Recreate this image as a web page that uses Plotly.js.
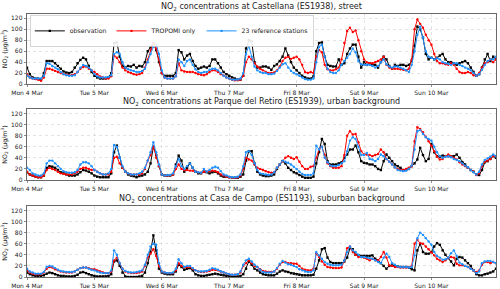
<!DOCTYPE html>
<html><head><meta charset="utf-8">
<script src="https://cdn.plot.ly/plotly-3.0.1.min.js"></script>
<style>html,body{margin:0;padding:0;background:#fff}#chart{width:500px;height:289px}</style>
</head><body><div id="chart"></div>
<script>
// Days and tick labels
const dayDates = ['2019-03-04','2019-03-05','2019-03-06','2019-03-07','2019-03-08','2019-03-09','2019-03-10'];
const dayLabels = ['Mon 4 Mar','Tue 5 Mar','Wed 6 Mar','Thu 7 Mar','Fri 8 Mar','Sat 9 Mar','Sun 10 Mar'];
const seriesNames = ['observation','TROPOMI only','23 reference stations'];
const panelTitles = [
  'NO<sub>2</sub> concentrations at Castellana (ES1938), street',
  'NO<sub>2</sub> concentrations at Parque del Retiro (ES1939), urban background',
  'NO<sub>2</sub> concentrations at Casa de Campo (ES1193), suburban background'
];
const yTitle = 'NO<sub>2</sub> (μg/m<sup>3</sup>)';

// Panel 1: Castellana (hourly, Mon 00h .. Sun 23h)
const castObs = [
 30,18,12,10,10,8,20,42,42,42,38,33,28,23,21,20,22,30,38,44,48,45,33,22,
 15,12,10,10,10,12,20,75,76,50,33,30,33,32,35,30,33,32,40,60,67,75,62,40,
 20,15,15,15,15,20,62,58,45,52,55,42,33,28,30,32,30,33,45,45,38,30,22,18,
 15,12,10,8,8,15,65,80,78,40,30,30,32,32,30,26,33,36,42,50,65,52,40,30,
 25,20,15,12,10,10,14,60,75,76,50,35,33,32,32,45,35,38,55,65,72,72,50,30,
 40,35,38,35,35,30,40,50,45,33,28,35,33,35,35,33,35,42,70,105,100,85,55,45,
 48,45,48,52,55,45,40,40,38,35,38,40,42,38,30,22,15,18,30,45,55,42,50,45];
const castTrop = [
 18,12,10,9,8,6,12,28,28,26,24,22,20,18,17,16,16,18,22,28,31,32,28,25,
 22,18,14,12,10,10,14,52,48,40,30,25,22,20,18,17,18,20,30,45,62,75,65,45,
 20,12,10,10,10,14,38,25,23,22,22,22,20,18,17,16,18,22,25,25,22,18,15,12,
 10,8,7,7,8,15,40,50,45,38,32,28,25,22,20,20,21,25,32,42,48,50,46,48,
 50,45,35,22,20,22,20,50,62,58,35,27,25,25,27,30,45,75,97,103,95,98,80,60,
 45,40,38,38,40,42,45,50,35,30,28,28,28,27,26,25,28,45,100,118,110,103,90,80,
 72,55,42,38,38,36,35,38,35,28,22,20,20,22,20,16,15,20,30,38,40,45,40,45];
const castRef = [
 15,12,10,10,10,10,15,38,37,33,30,27,22,18,16,15,15,16,22,30,35,33,30,25,
 18,14,12,12,12,13,16,55,58,55,40,30,27,25,24,22,22,24,28,40,55,68,72,55,
 25,12,10,10,10,14,45,40,33,42,45,35,27,22,20,22,22,26,28,28,25,20,15,12,
 10,8,8,8,10,20,55,70,50,32,25,22,20,20,18,18,19,24,30,36,38,30,24,20,
 18,15,12,9,8,8,10,40,68,72,50,28,22,20,20,25,35,42,48,55,65,58,42,36,
 35,35,35,33,30,33,40,45,36,32,30,32,32,30,28,25,22,35,60,90,105,85,60,50,
 48,45,47,45,40,38,37,35,38,38,35,33,30,28,25,20,15,18,26,35,42,45,45,50];

// Panel 2: Parque del Retiro
const retObs = [
 14,10,8,6,5,5,8,22,25,24,22,18,14,12,10,8,8,8,10,14,18,17,15,12,
 8,6,5,5,5,5,12,50,62,40,22,15,10,8,7,5,7,8,10,15,30,60,45,25,
 10,8,8,8,10,28,44,35,15,22,30,22,15,12,12,15,14,12,14,15,12,8,6,6,
 5,4,4,4,6,10,35,52,52,30,15,10,8,7,7,8,10,20,28,34,30,22,18,14,
 12,9,6,4,4,4,6,30,50,74,65,34,28,28,28,30,32,40,46,55,55,62,50,34,
 31,30,28,28,25,20,18,34,46,40,34,28,25,22,18,18,20,25,30,37,58,45,34,38,
 65,50,43,42,44,43,43,43,43,46,40,32,28,22,18,15,10,9,18,32,34,38,43,40];
const retTrop = [
 15,10,8,6,5,5,8,18,22,20,18,15,12,11,10,10,10,12,15,20,22,22,20,18,
 18,15,12,10,10,10,15,40,42,30,22,15,12,10,10,10,10,12,20,35,45,60,40,25,
 10,8,8,8,10,20,28,20,18,18,17,17,15,14,13,15,15,16,17,16,14,10,8,6,
 5,4,4,5,8,20,40,37,35,28,22,20,18,16,14,13,14,22,28,34,40,43,40,38,
 41,33,25,20,20,24,25,40,55,60,45,30,25,22,22,22,25,45,80,88,82,83,68,52,
 46,46,45,43,45,47,55,50,38,33,28,23,20,18,18,20,22,25,70,95,92,86,78,70,
 62,52,42,37,38,43,46,43,40,37,32,28,25,22,18,15,9,12,25,33,35,38,43,43];
const retRef = [
 22,18,12,10,8,8,12,30,35,35,30,25,20,16,14,13,13,14,18,28,32,32,30,25,
 18,15,12,10,10,12,20,63,60,40,25,15,12,10,10,10,12,15,22,35,50,68,50,28,
 10,8,9,9,12,25,38,25,20,25,30,22,15,14,13,20,15,18,22,24,22,16,10,8,
 6,5,5,6,10,25,50,52,45,30,18,12,11,10,9,10,14,22,28,35,33,31,28,24,
 20,15,11,9,9,9,12,62,55,60,40,32,26,25,25,27,30,34,52,71,77,74,60,45,
 45,49,38,37,34,38,46,43,38,33,28,23,18,17,16,17,20,26,55,88,90,83,77,74,
 71,60,50,43,40,42,43,41,38,36,34,30,26,23,18,14,10,15,28,36,39,42,46,43];

// Panel 3: Casa de Campo
const campObs = [
 8,5,3,2,2,2,3,6,8,7,5,3,2,2,1,1,1,2,4,8,9,7,5,3,
 2,1,1,1,1,2,5,28,30,20,8,1,0,0,0,0,1,2,8,25,45,75,48,15,
 8,6,5,5,5,10,22,18,13,15,16,12,5,3,2,2,3,4,5,6,5,4,3,2,
 2,1,1,1,2,5,15,28,22,15,12,8,5,4,3,3,3,6,10,12,10,9,7,6,
 5,4,3,3,3,3,4,15,30,50,52,35,27,25,25,25,25,28,35,52,50,40,39,38,
 38,38,38,39,33,30,25,20,15,20,21,20,19,18,18,18,17,14,12,48,60,45,42,42,
 45,55,61,58,48,40,34,28,21,33,36,35,30,25,20,12,5,3,3,5,6,8,10,15];
const campTrop = [
 12,8,6,5,5,5,8,15,18,17,14,12,10,9,8,8,8,10,13,16,17,17,16,14,
 14,12,10,8,7,7,10,30,35,25,15,10,8,7,7,7,8,10,20,35,42,50,38,20,
 10,8,7,7,7,12,25,20,17,18,18,15,12,10,9,9,10,11,13,13,12,10,8,6,
 5,4,4,5,8,20,25,30,25,20,18,14,11,10,9,9,10,15,22,27,27,25,25,24,
 24,20,15,13,12,12,15,42,36,28,22,18,17,16,16,16,17,30,52,55,45,40,36,36,
 35,33,30,33,30,30,36,45,35,21,20,18,18,17,17,17,18,20,60,67,61,60,55,50,
 44,39,33,30,27,30,35,36,35,24,21,21,20,18,15,12,9,12,22,27,27,25,27,25];
const campRef = [
 15,10,8,6,6,6,9,18,20,19,16,13,11,10,9,9,9,10,13,16,17,17,15,13,
 12,10,8,7,7,7,12,48,40,25,15,11,9,8,8,9,10,12,22,40,55,60,58,25,
 10,8,7,7,8,15,32,25,18,20,20,16,12,10,10,10,11,13,16,15,13,10,8,6,
 5,4,4,5,10,22,30,33,28,22,18,13,9,8,8,8,10,16,24,29,26,23,22,20,
 18,14,12,10,9,9,12,45,39,33,27,24,22,21,21,21,22,30,45,55,48,45,40,36,
 36,35,34,33,30,27,25,35,42,36,25,22,19,18,18,18,17,18,39,70,80,76,70,64,
 58,45,38,35,31,32,35,43,48,38,26,23,20,18,15,12,7,10,25,28,29,29,27,25];

// hourly timestamps
const times = [];
dayDates.forEach(d => { for (let h = 0; h < 24; h++) times.push(d + ' ' + String(h).padStart(2,'0') + ':00'); });

const colors = ['#000000', '#ff0000', '#1e90ff'];
const symbols = ['square', 'circle', 'circle'];
const panels = [[castObs, castTrop, castRef], [retObs, retTrop, retRef], [campObs, campTrop, campRef]];

const traces = [];
panels.forEach((p, i) => {
  p.forEach((vals, j) => {
    traces.push({
      x: times, y: vals, type: 'scatter', mode: 'lines+markers',
      name: seriesNames[j], legendgroup: seriesNames[j], showlegend: i === 0,
      line: {color: colors[j], width: 1},
      marker: {color: colors[j], size: 2.4, symbol: symbols[j]},
      xaxis: i === 0 ? 'x' : 'x' + (i + 1), yaxis: i === 0 ? 'y' : 'y' + (i + 1)
    });
  });
});

const font = {family: 'DejaVu Sans, sans-serif', color: '#222'};
const domains = [[0.7338, 1], [0.3688, 0.6388], [0, 0.270]];
const layout = {
  width: 500, height: 289,
  margin: {l: 27, r: 4, t: 14, b: 12},
  paper_bgcolor: '#fff', plot_bgcolor: '#fff',
  font: Object.assign({size: 6}, font),
  showlegend: true,
  legend: {orientation: 'h', x: 0.006, y: 0.994, xanchor: 'left', yanchor: 'top',
           bgcolor: 'rgba(255,255,255,0.9)', bordercolor: '#cccccc', borderwidth: 0.8,
           font: Object.assign({size: 6.2}, font), itemwidth: 30, tracegroupgap: 0},
  annotations: []
};
for (let i = 0; i < 3; i++) {
  const sx = i === 0 ? '' : String(i + 1);
  layout['xaxis' + sx] = {
    domain: [0, 1], anchor: 'y' + sx, type: 'date',
    range: [times[0], times[times.length - 1]],
    tickmode: 'array', tickvals: dayDates, ticktext: dayLabels,
    tickfont: Object.assign({size: 6}, font),
    showline: true, mirror: true, linecolor: '#444', linewidth: 0.8,
    ticks: 'outside', ticklen: 2.5, tickcolor: '#444', tickwidth: 0.6,
    showgrid: true, gridcolor: '#d0d0d0', gridwidth: 0.6, griddash: 'dot',
    zeroline: false, fixedrange: true
  };
  layout['yaxis' + sx] = {
    domain: domains[i], anchor: 'x' + sx,
    range: [0, 128], tickvals: [0, 20, 40, 60, 80, 100, 120],
    tickfont: Object.assign({size: 6}, font),
    title: {text: yTitle, font: Object.assign({size: 6.3}, font), standoff: 3},
    showline: true, mirror: true, linecolor: '#444', linewidth: 0.8,
    ticks: 'outside', ticklen: 2.5, tickcolor: '#444', tickwidth: 0.6,
    showgrid: true, gridcolor: '#d0d0d0', gridwidth: 0.6, griddash: 'dot',
    zeroline: false, fixedrange: true
  };
  layout.annotations.push({
    text: panelTitles[i], xref: 'paper', yref: 'paper', x: 0.5, y: domains[i][1],
    xanchor: 'center', yanchor: 'bottom', yshift: 0, showarrow: false,
    font: Object.assign({size: 8}, font)
  });
}
Plotly.newPlot('chart', traces, layout, {staticPlot: true, displayModeBar: false});
</script></body></html>
